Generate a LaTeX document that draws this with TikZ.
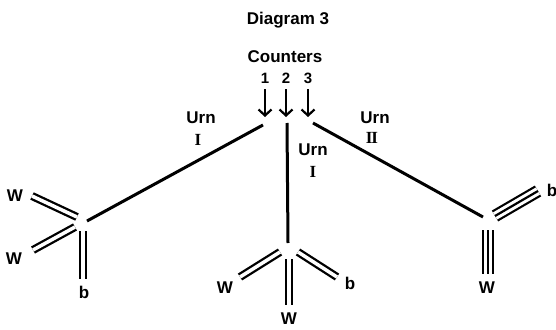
\documentclass[tikz,border=0pt]{standalone}
\usepackage{fontspec}
\setmainfont{Liberation Sans}
\newfontfamily\romfont{Liberation Serif}
\newcommand\lblsize{\fontsize{17pt}{19pt}\selectfont}
\newcommand\numsize{\fontsize{15pt}{17pt}\selectfont}
\usetikzlibrary{arrows.meta}
\begin{document}
\begin{tikzpicture}[x=1pt,y=-1pt,
  lbl/.style={anchor=base,inner sep=0pt,font=\lblsize\bfseries},
  small/.style={anchor=base,inner sep=0pt,font=\numsize\bfseries},
  romlbl/.style={anchor=base,inner sep=0pt,font=\lblsize\romfont\bfseries},
  mainline/.style={line width=3pt},
  arr/.style={line width=2.2pt,-{Straight Barb[length=6pt,width=13pt,line width=2.2pt]}},
  dbl/.style={line width=2.3pt,double,double distance=3.5pt},
  trpout/.style={line width=2.2pt,double,double distance=8.2pt},
  trpin/.style={line width=2.2pt}]
\useasboundingbox (0,0) rectangle (556,329);
% titles
\node[lbl] (title) at (288,25) {Diagram 3};
\node[lbl] (counters) at (285,63) {Counters};
\node[small] (n1) at (265,83) {1};
\node[small] (n2) at (286,83) {2};
\node[small] (n3) at (308,83) {3};
% arrows
\coordinate (a1s) at (265,89); \coordinate (a1e) at (265,117);
\coordinate (a2s) at (286,89); \coordinate (a2e) at (286,117);
\coordinate (a3s) at (308,89); \coordinate (a3e) at (308,117);
\draw[arr] (a1s) -- (a1e);
\draw[arr] (a2s) -- (a2e);
\draw[arr] (a3s) -- (a3e);
% main branches
\coordinate (top1) at (263,125);
\coordinate (top2) at (287,123);
\coordinate (top3) at (313,123);
\coordinate (J1) at (87,221);
\coordinate (J2) at (288,243);
\coordinate (J3) at (483,217);
\draw[mainline] (top1) -- (J1);
\draw[mainline] (top2) -- (J2);
\draw[mainline] (top3) -- (J3);
% urn labels
\node[lbl] (u1) at (201,123) {Urn};
\node[romlbl] (r1) at (198,145) {I};
\node[lbl] (u2) at (313,155) {Urn};
\node[romlbl] (r2) at (313,177) {I};
\node[lbl] (u3) at (375,123) {Urn};
\node[romlbl] (r3) at (372,143) {I\kern-1.2ptI};
% left junction
\coordinate (L1a) at (77,217); \coordinate (L1b) at (32,196);
\coordinate (L2a) at (75,227); \coordinate (L2b) at (33,250);
\coordinate (L3a) at (83,231); \coordinate (L3b) at (83,279);
\draw[dbl] (L1a) -- (L1b);
\draw[dbl] (L2a) -- (L2b);
\draw[dbl] (L3a) -- (L3b);
\node[lbl] (lw1) at (15,201) {W};
\node[lbl] (lw2) at (14,264) {W};
\node[lbl] (lb) at (84,298) {b};
% center junction
\coordinate (C1a) at (280,252); \coordinate (C1b) at (240,277);
\coordinate (C2a) at (298,252); \coordinate (C2b) at (337,277);
\coordinate (C3a) at (289,259); \coordinate (C3b) at (289,305);
\draw[dbl] (C1a) -- (C1b);
\draw[dbl] (C2a) -- (C2b);
\draw[dbl] (C3a) -- (C3b);
\node[lbl] (cw1) at (225,293) {W};
\node[lbl] (cb) at (350,289) {b};
\node[lbl] (cw2) at (289,324) {W};
% right junction
\coordinate (R1a) at (495,216); \coordinate (R1b) at (538,191);
\coordinate (R2a) at (488,230); \coordinate (R2b) at (488,274);
\draw[trpout] (R1a) -- (R1b);
\draw[trpin] (R1a) -- (R1b);
\draw[trpout] (R2a) -- (R2b);
\draw[trpin] (R2a) -- (R2b);
\node[lbl] (rb) at (552,196) {b};
\node[lbl] (rw) at (487,293) {W};
\end{tikzpicture}
\end{document}
